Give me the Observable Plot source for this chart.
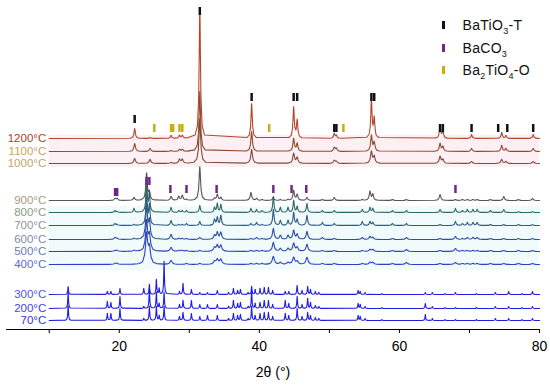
<!DOCTYPE html>
<html><head><meta charset="utf-8">
<script src="https://cdn.jsdelivr.net/npm/d3@7"></script>
<script src="https://cdn.jsdelivr.net/npm/@observablehq/plot@0.6"></script>
<style>
body{margin:0;background:#fff;font-family:"Liberation Sans",Arial,sans-serif;}
#wrap{position:relative;width:550px;height:385px;}
#legend{position:absolute;left:440px;top:14px;font-size:14px;color:#111;letter-spacing:0.3px;}
.row{display:flex;align-items:center;height:22.5px;}
.mk{width:2.5px;height:8px;margin-left:2px;margin-right:18px;}
sub{font-size:9px;vertical-align:-4px;line-height:0;}
</style></head><body>
<div id="wrap"><div id="chart"></div><div id="legend"></div></div>
<script>
// ---- series meta ----
const temps = ["1200°C","1100°C","1000°C","900°C","800°C","700°C","600°C","500°C","400°C","300°C","200°C","70°C"];
const offsets = [191,178,166,129,117,104,90,78,65,35,21,9];
const lineColors = ["#b4452d","#8f4a2c","#7d4b3a","#555555","#2f6868","#2e5c82","#2c4e9c","#2b45b2","#2a3fca","#1e1ee2","#1e1ee2","#1e1ee2"];
const labelColors = ["#a8412b","#c9a35a","#c2a468","#a89c80","#8c9c84","#8c9898","#7c8aa4","#6a7cb8","#5a6cd2","#4a58e0","#3e44dc","#3434dc"];
const fwhm = [0.22,0.25,0.28,0.25,0.2,0.22,0.28,0.32,0.35,0.12,0.12,0.12];

// ---- peaks: high-temperature group (1200, 1100, 1000 °C) ----
const highPos = [22.2,24.4,27.4,28.6,29.0,31.5,38.9,44.9,45.4,50.7,51.0,56.0,56.4,65.8,66.2,70.3,74.6,75.2,79.1];
const h1200 = [10,1,3,3,3,131,35,31,18,5,3,38,20,13,8,4,6,3,4];
const h1100 = [8,3,1,2,2,60,20,13,8,4,3,16,9,8,5,3,6,3,3];
const h1000 = [5,4,1,4,4,45,14,10,6,3,2,12,7,7,4,2,4,2,2];

// ---- peaks: mid group (900 ... 400 °C) ----
const midPos = [19.4,19.7,22.1,23.9,24.3,27.4,28.5,29.0,29.6,31.5,33.6,34.0,34.5,38.8,39.6,40.4,42.0,43.0,44.1,44.9,45.4,46.8,49.0,50.7,54.7,55.8,56.2,59.0,61.0,65.8,68.0,69.0,69.7,70.5,71.1,73.0,74.9,77.0,79.0];
const h900 = [2,2,3,27,8,4,4,5,1,34,2,6,3,8,2,1,3,1,1,10,6,3,1,3,1,9,6,1,1,6,1,1,1,1,1,1,4,1,2];
const h800 = [2,1,4,35,20,5,2,2,2,7,5,9,8,4,3,2,16,5,5,12,6,9,2,2,3,5,4,2,2,3,4,2,3,3,3,2,3,1,1];
const h700 = [2,1,1,35,20,5,1,1,2,4,6,8,10,2,3,1,16,5,5,13,6,10,3,2,4,4,3,2,2,1,4,2,3,3,3,1,1,1,1];
const h600 = [2,1,1,35,18,5,1,1,1,2,4,7,7,1,2,1,11,4,4,9,5,8,2,1,2,3,2,1,2,1,3,1,2,2,2,1,1,1,1];
const h500 = [1,1,1,30,16,4,1,1,1,1,4,6,6,1,1,1,9,3,3,8,4,7,1,1,1,2,2,1,2,1,3,1,1,1,1,1,1,1,1];
const h400 = [1,1,0,30,16,4,0,0,1,1,3,5,5,1,1,1,8,2,2,7,3,7,1,1,1,2,2,1,2,1,2,1,1,1,1,1,1,1,1];

// ---- peaks: low group (300, 200, 70 °C) ----
const lowPos = [12.7,18.3,18.8,20.1,23.5,24.3,25.3,25.7,26.4,28.6,29.1,30.3,31.5,32.6,34.0,35.6,36.3,36.9,37.3,38.4,38.9,39.4,40.1,40.7,41.3,41.9,43.7,44.2,45.4,46.1,46.9,47.3,48.0,48.5,54.1,54.4,55.1,57.5,63.7,64.7,66.5,68.0,71.0,73.7,75.6,77.5,79.0];
const h300 = [8,3,3,6,6,10,15,6,33,3,11,5,2,2,4,2,6,4,5,2,8,5,6,7,7,4,3,3,9,4,8,5,3,2,4,3,2,1,2,2,1,2,1,2,3,1,3];
const h200 = [16,7,6,12,2,20,16,5,16,4,8,8,4,4,4,2,8,5,6,2,18,5,6,8,8,4,8,5,12,4,10,6,3,2,5,4,2,1,5,2,1,1,1,2,2,1,2];
const h70  = [15,7,7,12,2,14,14,5,14,4,8,7,4,5,5,2,7,5,6,2,14,5,7,8,8,4,7,5,12,4,8,5,3,2,5,4,2,1,6,2,1,1,1,2,2,1,2];

const positions = [highPos,highPos,highPos,midPos,midPos,midPos,midPos,midPos,midPos,lowPos,lowPos,lowPos];
const heights = [h1200,h1100,h1000,h900,h800,h700,h600,h500,h400,h300,h200,h70];

// ---- phase reference markers ----
const batioPos = [22.2,31.5,38.9,44.9,45.4,50.7,51.0,56.0,56.4,65.8,66.2,70.3,74.1,75.4,79.1];
const batioLvl = [210,318,232,232,232,201,201,232,232,201,201,201,201,201,201];
const bacoPos = [19.4,19.7,23.9,24.3,27.3,29.6,33.9,42.0,44.6,46.7,68.0];
const bacoLvl = [137,137,148,148,140,140,140,140,140,140,140];
const ba2Pos = [25.0,27.4,27.7,28.6,29.0,41.4,52.0];
const ba2Lvl = [201,201,201,201,201,201,201];
const phaseColors = {batio:"#111111", baco:"#6a2a8c", ba2:"#c8ae10"};

const xTicks = [10,20,30,40,50,60,70,80];
const xMin = 10, xMax = 80;

// build each trace from its peak list (Lorentzian profile through the read peak heights)
function trace(i){
  const pos = positions[i], h = heights[i], g = fwhm[i]/2, base = offsets[i];
  const ks = [-6,-3,-1.5,-0.75,-0.35,0,0.35,0.75,1.5,3,6];
  let xs = [xMin, xMax];
  pos.forEach(p => ks.forEach(k => xs.push(p + k*g)));
  xs = xs.filter(x => x >= xMin && x <= xMax).sort((a,b)=>a-b);
  return xs.map(x => {
    let y = base;
    pos.forEach((p,j) => { const u=(x-p)/g; y += h[j]/(1+u*u); });
    return {x, y};
  });
}

const marks = [];
// faint background bands
marks.push(Plot.rect([0], {x1: xMin, x2: xMax, y1: offsets[2]-4, y2: offsets[0]+3, fill: "#fdf0f5"}));
marks.push(Plot.rect([0], {x1: xMin, x2: xMax, y1: offsets[8]-6, y2: offsets[4]+6, fill: "#f1fbfb"}));
for (let i = temps.length-1; i >= 0; i--) {
  marks.push(Plot.line(trace(i), {x: "x", y: "y", stroke: lineColors[i], strokeWidth: 1.1}));
}
const markerData = [
  ...batioPos.map((p,j)=>({x:p, y:batioLvl[j], c:phaseColors.batio})),
  ...bacoPos.map((p,j)=>({x:p, y:bacoLvl[j], c:phaseColors.baco})),
  ...ba2Pos.map((p,j)=>({x:p, y:ba2Lvl[j], c:phaseColors.ba2}))
];
marks.push(Plot.ruleX(markerData, {x:"x", y1: d=>d.y-4, y2: d=>d.y+4, stroke: d=>d.c, strokeWidth: 2.5}));
marks.push(Plot.text(temps.map((t,i)=>({t, y: offsets[i], c: labelColors[i]})), {
  x: xMin, y: "y", text: "t", fill: d=>d.c, textAnchor: "end", dx: -3, fontSize: 11.5
}));
marks.push(Plot.ruleY([0], {stroke: "#000", strokeWidth: 1}));
marks.push(Plot.axisX({ticks: xTicks, tickFormat: d => d % 20 === 0 ? String(d) : "", tickSize: 4, tickPadding: 8, fontSize: 14, label: "2θ (°)", labelAnchor: "center", labelOffset: 47, labelArrow: "none", color: "#000"}));

const chart = Plot.plot({
  width: 550, height: 385,
  marginTop: 0, marginBottom: 56, marginLeft: 6, marginRight: 11,
  x: {domain: [3.9, 80]},
  y: {domain: [0, 329], axis: null},
  color: {type: "identity"},
  style: {fontFamily: "'Liberation Sans', Arial, sans-serif", background: "#fff", overflow: "visible"},
  marks
});
document.getElementById("chart").appendChild(chart);

// legend
const legendItems = [
  {html: "BaTiO<sub>3</sub>-T", c: phaseColors.batio},
  {html: "BaCO<sub>3</sub>", c: phaseColors.baco},
  {html: "Ba<sub>2</sub>TiO<sub>4</sub>-O", c: phaseColors.ba2}
];
const lg = document.getElementById("legend");
legendItems.forEach(it => {
  const r = document.createElement("div"); r.className = "row";
  r.innerHTML = `<span class="mk" style="background:${it.c}"></span><span>${it.html}</span>`;
  lg.appendChild(r);
});
</script></body></html>
